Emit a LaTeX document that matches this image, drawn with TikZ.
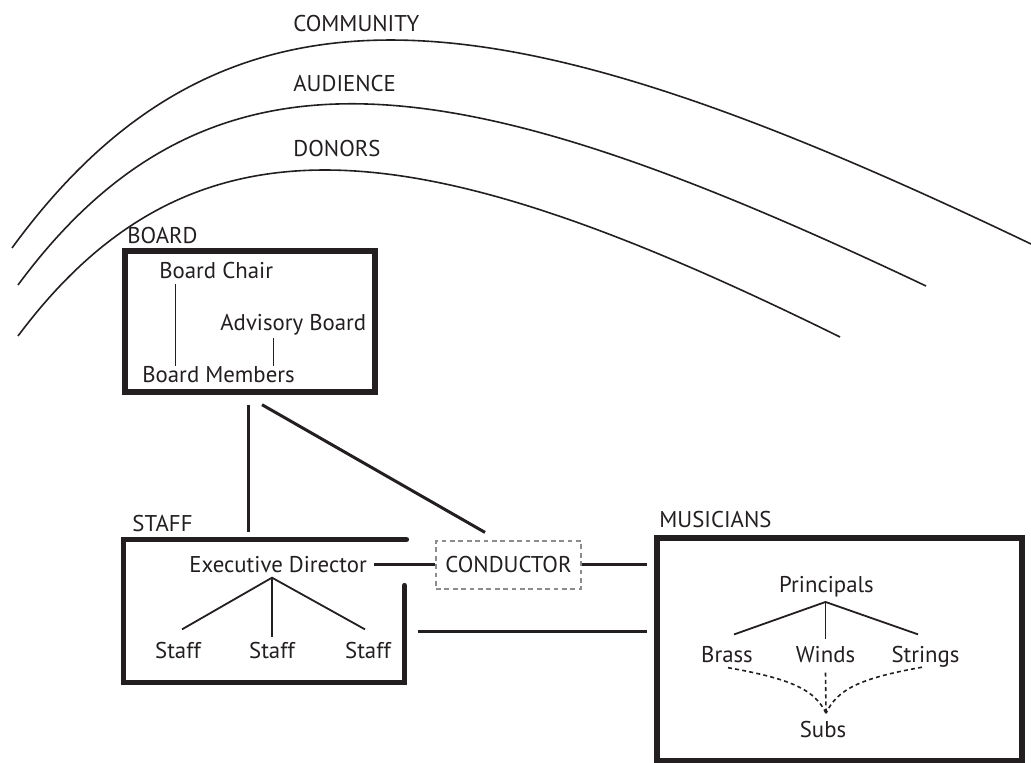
\documentclass[tikz,border=0pt]{standalone}
\usepackage{fontspec}
\setmainfont{PT Sans}
\usepackage{tikz}
\usepackage{xcolor}
\definecolor{orgink}{HTML}{231F20}
\definecolor{orggray}{HTML}{8C8C8C}

\begin{document}
\begin{tikzpicture}[
  x=0.5pt,y=-0.5pt,
  every node/.style={inner sep=0pt,text=orgink,font=\fontsize{11.4}{13}\selectfont},
  lbl/.style={anchor=base west},
  item/.style={anchor=base},
  frame/.style={draw=orgink,line width=2.7pt},
  link/.style={draw=orgink,line width=1.5pt},
  twig/.style={draw=orgink,line width=0.9pt},
  hair/.style={draw=orgink,line width=0.5pt},
  subline/.style={draw=orgink,line width=0.8pt,dash pattern=on 2pt off 1.6pt},
  ring/.style={draw=orgink,line width=0.8pt},
  condbox/.style={draw=orggray,line width=0.6pt,dash pattern=on 2.4pt off 1.8pt,minimum width=72.5pt,minimum height=24pt},
]
\useasboundingbox (0,0) rectangle (1031,763);

% outer circles of support
\draw[ring] (12,248) .. controls (234,-56) and (521,0) .. (1031,244);
\draw[ring] (18,285) .. controls (216,17) and (472,71) .. (926,286);
\draw[ring] (18,336) .. controls (198,95) and (430,135) .. (840,337);
\node[lbl] (community) at (293,32) {COMMUNITY};
\node[lbl] (audience) at (293,92) {AUDIENCE};
\node[lbl] (donors) at (293,157) {DONORS};

% board
\node[lbl] (boardlbl) at (127,244) {BOARD};
\node[frame,minimum width=125pt,minimum height=70.5pt] (board) at (250,321.5) {};
\node[lbl] (chair) at (159,279) {Board Chair};
\node[lbl] (advisory) at (220,331) {Advisory Board};
\node[lbl] (members) at (142,383) {Board Members};
\draw[hair] ([xshift=8pt,yshift=-2pt]chair.south west) -- ([xshift=8pt]chair.south west |- members.north);
\draw[hair] ([xshift=26.5pt,yshift=-1pt]advisory.south west) -- ([xshift=26.5pt]advisory.south west |- members.north);

% staff (box left open at the top right)
\node[lbl] (stafflbl) at (132,531) {STAFF};
\node[minimum width=140pt,minimum height=71pt] (staff) at (264,611) {};
\draw[frame,line cap=round] ([xshift=1pt]staff.north east) -- (staff.north west) -- (staff.south west)
  -- (staff.south east) -- ([yshift=-23pt]staff.north east);
\node[lbl] (ed) at (189,572) {Executive Director};
\node[item] (s1) at (178,658) {Staff};
\node[item] (s2) at (272,658) {Staff};
\node[item] (s3) at (368,658) {Staff};
\coordinate (edfork) at ([yshift=-2.5pt]ed.south -| s2.north);
\draw[twig] ([xshift=2pt,yshift=6pt]s1.north) -- (edfork) -- ([xshift=-1.5pt,yshift=6pt]s3.north);
\draw[twig] (edfork) -- ([yshift=2pt]s2.north);

% conductor
\node[condbox] (cond) at (508.5,565) {CONDUCTOR};

% musicians
\node[lbl] (muslbl) at (659,527) {MUSICIANS};
\node[frame,minimum width=182.5pt,minimum height=111.5pt] (mus) at (839.5,649.5) {};
\node[item] (princ) at (826.5,592) {Principals};
\node[item] (brass) at (727,662) {Brass};
\node[item] (winds) at (825.5,662) {Winds};
\node[item] (strings) at (925.5,662) {Strings};
\node[item] (subs) at (823,737) {Subs};
\coordinate (prfork) at ([yshift=-2.5pt]princ.south -| winds.north);
\draw[twig] ([xshift=3.5pt,yshift=5.5pt]brass.north) -- (prfork) -- ([xshift=-3.75pt,yshift=5.5pt]strings.north);
\draw[twig] (prfork) -- ([yshift=3pt]winds.north);
\coordinate (subtop) at ([xshift=1.5pt,yshift=3.5pt]subs.north);
\draw[subline] ([xshift=0.5pt,yshift=-2.5pt]brass.south) .. controls +(62,11) and +(-11,-24) .. (subtop);
\draw[subline] ([yshift=-5pt]winds.south) -- (subtop);
\draw[subline] ([xshift=-1.75pt]strings.south) .. controls +(-62,11) and +(11,-24) .. (subtop);

% connectors between the groups
\draw[link] ([xshift=-1pt,yshift=-5pt]board.south) -- ([xshift=-8pt,yshift=4pt]staff.north);
\draw[link] ([xshift=6pt,yshift=-5pt]board.south) -- ([xshift=-11.75pt,yshift=4pt]cond.north);
\draw[link] ([xshift=3.5pt]ed.east) -- (ed.east -| cond.west);
\draw[link] (cond.east |- ed.east) -- ([xshift=-3.5pt]ed.east -| mus.west);
\draw[link] ([xshift=7pt,yshift=-10pt]staff.east) -- ([xshift=-3.5pt,yshift=-10pt]staff.east -| mus.west);
\end{tikzpicture}
\end{document}
